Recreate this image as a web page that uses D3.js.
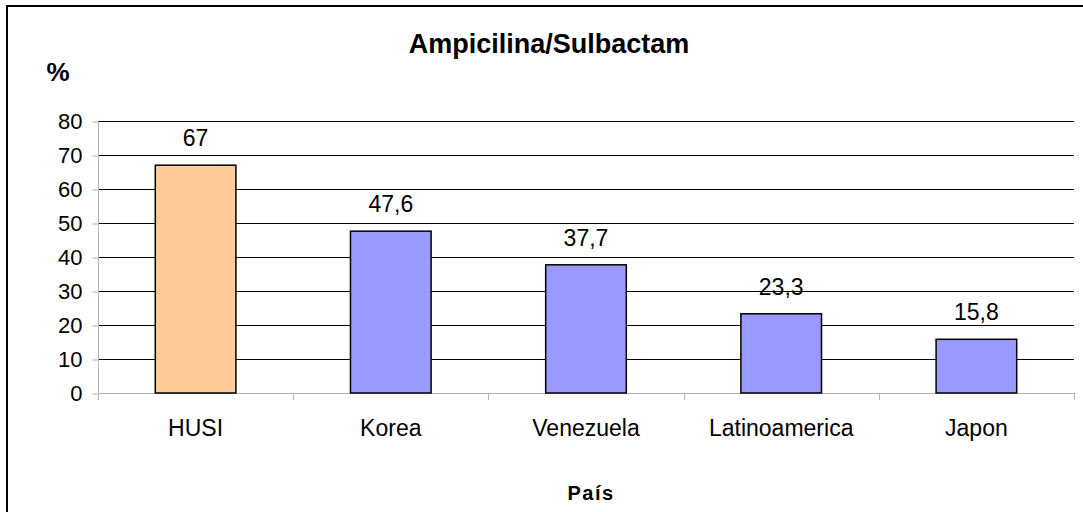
<!DOCTYPE html>
<html>
<head>
<meta charset="utf-8">
<script src="https://cdn.jsdelivr.net/npm/d3@7"></script>
<style>
  html, body { margin: 0; padding: 0; background: #fff; }
  svg { display: block; font-family: "Liberation Sans", Arial, sans-serif; }
</style>
</head>
<body>
<svg id="chart" width="1083" height="512"></svg>
<script>
// Resistance to ampicillin/sulbactam by country (%)
const categories = ["HUSI", "Korea", "Venezuela", "Latinoamerica", "Japon"];
const values = [67, 47.6, 37.7, 23.3, 15.8];
const valueLabels = ["67", "47,6", "37,7", "23,3", "15,8"];
const yTicks = [0, 10, 20, 30, 40, 50, 60, 70, 80];
const barColors = ["#FFCC99", "#9999FF", "#9999FF", "#9999FF", "#9999FF"];

const svg = d3.select("#chart");

// outer frame
svg.append("rect")
  .attr("x", 7).attr("y", 6)
  .attr("width", 1100).attr("height", 540)
  .attr("fill", "none").attr("stroke", "#000").attr("stroke-width", 2);

const plot = { left: 98, right: 1074, top: 121, bottom: 393 };

const x = d3.scaleBand().domain(categories).range([plot.left, plot.right]).padding(0);
const y = d3.scaleLinear().domain([0, 80]).range([plot.bottom, plot.top]);
const barFrac = 0.413;

// horizontal gridlines
svg.append("g")
  .selectAll("line")
  .data(yTicks.filter(t => t > 0))
  .join("line")
  .attr("x1", plot.left).attr("x2", plot.right)
  .attr("y1", d => Math.round(y(d)) + 0.5).attr("y2", d => Math.round(y(d)) + 0.5)
  .attr("stroke", "#000").attr("stroke-width", 1);

// y axis
const yAxis = d3.axisLeft(y).tickValues(yTicks).tickSize(6).tickPadding(10);
const gy = svg.append("g")
  .attr("transform", `translate(${plot.left + 0.5},0.5)`)
  .call(yAxis);
gy.selectAll("path, line").attr("stroke", "#b3b3b3");
gy.select(".domain").attr("d", `M0,${plot.top}V${plot.bottom}`);
gy.selectAll("text")
  .attr("font-size", 22).attr("fill", "#000")
  .attr("font-family", "'Liberation Sans', Arial, sans-serif");

// x axis baseline and category dividers
const gx = svg.append("g");
gx.append("line")
  .attr("x1", plot.left).attr("x2", plot.right)
  .attr("y1", plot.bottom + 0.5).attr("y2", plot.bottom + 0.5)
  .attr("stroke", "#b3b3b3");
const bounds = categories.map(c => x(c)).concat([plot.right]);
gx.selectAll("line.div")
  .data(bounds)
  .join("line")
  .attr("class", "div")
  .attr("x1", d => Math.round(d) + 0.5).attr("x2", d => Math.round(d) + 0.5)
  .attr("y1", plot.bottom).attr("y2", plot.bottom + 7)
  .attr("stroke", "#b3b3b3");
gx.selectAll("text")
  .data(categories)
  .join("text")
  .attr("x", d => x(d) + x.bandwidth() / 2)
  .attr("y", 436)
  .attr("text-anchor", "middle")
  .attr("font-size", 23)
  .text(d => d);

// bars
const bw = x.bandwidth() * barFrac;
svg.append("g")
  .selectAll("rect")
  .data(values)
  .join("rect")
  .attr("x", (d, i) => x(categories[i]) + (x.bandwidth() - bw) / 2)
  .attr("y", d => y(d))
  .attr("width", bw)
  .attr("height", d => plot.bottom - y(d))
  .attr("fill", (d, i) => barColors[i])
  .attr("stroke", "#000").attr("stroke-width", 1.5);

// value labels
svg.append("g")
  .selectAll("text")
  .data(values)
  .join("text")
  .attr("x", (d, i) => x(categories[i]) + x.bandwidth() / 2)
  .attr("y", d => y(d) - 19)
  .attr("text-anchor", "middle")
  .attr("font-size", 23)
  .text((d, i) => valueLabels[i]);

// title
svg.append("text")
  .attr("x", 549).attr("y", 53)
  .attr("text-anchor", "middle")
  .attr("font-size", 27).attr("font-weight", "bold")
  .text("Ampicilina/Sulbactam");

// y axis unit
svg.append("text")
  .attr("x", 58).attr("y", 81)
  .attr("text-anchor", "middle")
  .attr("font-size", 26).attr("font-weight", "bold")
  .text("%");

// x axis title
svg.append("text")
  .attr("x", 591).attr("y", 500)
  .attr("text-anchor", "middle")
  .attr("font-size", 20).attr("font-weight", "bold")
  .attr("letter-spacing", 1.5)
  .text("País");
</script>
</body>
</html>
